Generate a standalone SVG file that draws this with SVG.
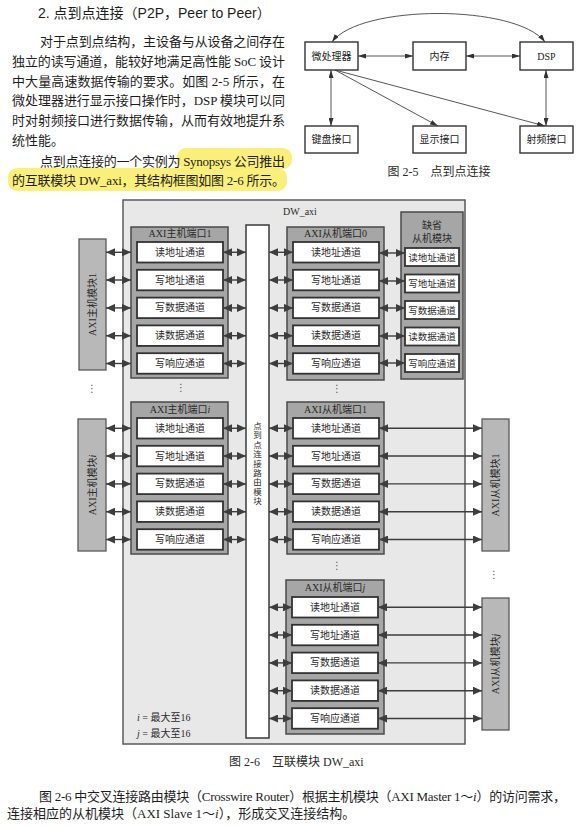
<svg xmlns="http://www.w3.org/2000/svg" width="584" height="826" viewBox="0 0 584 826">
<style>
.body{font-family:"Liberation Serif","Noto Sans CJK SC",serif;font-size:13px;fill:#1e1e1e}
.head{font-family:"Liberation Sans","Noto Sans CJK SC",sans-serif;font-size:14px;fill:#1e1e1e}
.cap{font-family:"Liberation Serif","Noto Sans CJK SC",serif;font-size:12px;fill:#2a2a2a}
.n5{fill:#fff;stroke:#333;stroke-width:1.4}
.t5{font-family:"Liberation Serif","Noto Sans CJK SC",serif;font-size:10px;fill:#222;text-anchor:middle}
.c5{fill:none;stroke:#444;stroke-width:0.9}
.outer{fill:#e8e8e8;stroke:#5a5a5a;stroke-width:1.5}
.port{fill:#a6a6a6;stroke:#4a4a4a;stroke-width:1.5}
.mod{fill:#b8b8b8;stroke:#5a5a5a;stroke-width:1.3}
.ch{fill:#fff;stroke:#333;stroke-width:1.8}
.col{fill:#fff;stroke:#3a3a3a;stroke-width:1.5}
.lab{font-family:"Liberation Serif","Noto Sans CJK SC",serif;font-size:10px;fill:#2a2a2a;text-anchor:middle}
.lab0{font-family:"Liberation Serif","Noto Sans CJK SC",serif;font-size:10px;fill:#2a2a2a}
.sm{font-size:9.5px}
.vc{font-family:"Liberation Serif","Noto Sans CJK SC",serif;font-size:8.5px;fill:#2a2a2a;text-anchor:middle}
.ar{stroke:#3d3d3d;stroke-width:1.4;marker-start:url(#ah);marker-end:url(#ah)}
.dots{font-family:"DejaVu Sans",sans-serif;font-size:10px;fill:#555;text-anchor:middle}
</style>
<defs>
<marker id="ah" markerUnits="userSpaceOnUse" markerWidth="9" markerHeight="8" viewBox="0 0 9 8" refX="9" refY="4" orient="auto-start-reverse"><path d="M0,0 L9,4 L0,8 Z" fill="#3d3d3d"/></marker>
<marker id="sh" markerUnits="userSpaceOnUse" markerWidth="8" markerHeight="5" viewBox="0 0 8 5" refX="8" refY="2.5" orient="auto-start-reverse"><path d="M0,0 L8,2.5 L0,5 Z" fill="#333"/></marker>
</defs>
<rect width="584" height="826" fill="#fff"/>

<g id="text-top">
<rect x="177" y="148" width="115" height="21" rx="9" fill="#faee6a" opacity="0.9"/>
<rect x="8" y="168" width="279" height="23" rx="9" fill="#faee6a" opacity="0.9"/>
<text class="head" x="38" y="18">2. 点到点连接（P2P，Peer to Peer）</text>
<text class="body" x="40" y="46" textLength="245" lengthAdjust="spacing">对于点到点结构，主设备与从设备之间存在</text>
<text class="body" x="12" y="66" textLength="273" lengthAdjust="spacing">独立的读写通道，能较好地满足高性能 SoC 设计</text>
<text class="body" x="12" y="86" textLength="273" lengthAdjust="spacing">中大量高速数据传输的要求。如图 2-5 所示，在</text>
<text class="body" x="12" y="105" textLength="273" lengthAdjust="spacing">微处理器进行显示接口操作时，DSP 模块可以同</text>
<text class="body" x="12" y="125" textLength="273" lengthAdjust="spacing">时对射频接口进行数据传输，从而有效地提升系</text>
<text class="body" x="12" y="145">统性能。</text>
<text class="body" x="40" y="166" textLength="245" lengthAdjust="spacing">点到点连接的一个实例为 Synopsys 公司推出</text>
<text class="body" x="12" y="185" textLength="273" lengthAdjust="spacing">的互联模块 DW_axi，其结构框图如图 2-6 所示。</text>
</g>

<g id="fig25">
<g id="f25-connectors">
<path class="c5" d="M332,42 C360,4 516,4 545,42" marker-start="url(#sh)" marker-end="url(#sh)"/>
<line class="c5" x1="358" y1="56" x2="413" y2="56" marker-start="url(#sh)" marker-end="url(#sh)"/>
<line class="c5" x1="466" y1="56" x2="520" y2="56" marker-start="url(#sh)" marker-end="url(#sh)"/>
<line class="c5" x1="331" y1="70" x2="331" y2="126" marker-start="url(#sh)" marker-end="url(#sh)"/>
<line class="c5" x1="546" y1="70" x2="546" y2="126" marker-start="url(#sh)" marker-end="url(#sh)"/>
<line class="c5" x1="335" y1="70" x2="438" y2="126" marker-end="url(#sh)"/>
<line class="c5" x1="335" y1="70" x2="545" y2="126" marker-end="url(#sh)"/>
</g>
<g id="n-cpu"><rect class="n5" x="305" y="42" width="53" height="28"/><text class="t5" x="331.5" y="59.5">微处理器</text></g>
<g id="n-mem"><rect class="n5" x="413" y="42" width="53" height="28"/><text class="t5" x="439.5" y="59.5">内存</text></g>
<g id="n-dsp"><rect class="n5" x="520" y="42" width="53" height="28"/><text class="t5" x="546.5" y="59.5">DSP</text></g>
<g id="n-kbd"><rect class="n5" x="305" y="126" width="53" height="27"/><text class="t5" x="331.5" y="143">键盘接口</text></g>
<g id="n-disp"><rect class="n5" x="413" y="126" width="53" height="27"/><text class="t5" x="439.5" y="143">显示接口</text></g>
<g id="n-rf"><rect class="n5" x="520" y="126" width="53" height="27"/><text class="t5" x="546.5" y="143">射频接口</text></g>
<text class="cap" x="439" y="176" text-anchor="middle">图 2-5　点到点连接</text>
</g>

<g id="fig26">
<g id="dw-axi"><rect class="outer" x="123" y="200" width="342" height="544"/><text class="lab0" x="283" y="215">DW_axi</text></g>

<g id="router"><rect class="col" x="246" y="225" width="23" height="513"/>
<text class="vc" x="257.5" y="429">点</text>
<text class="vc" x="257.5" y="438.4">到</text>
<text class="vc" x="257.5" y="447.8">点</text>
<text class="vc" x="257.5" y="457.2">连</text>
<text class="vc" x="257.5" y="466.6">接</text>
<text class="vc" x="257.5" y="476">路</text>
<text class="vc" x="257.5" y="485.4">由</text>
<text class="vc" x="257.5" y="494.8">模</text>
<text class="vc" x="257.5" y="504.2">块</text>
</g>

<g id="master-mod-1"><rect class="mod" x="79" y="239" width="27" height="131"/><text class="lab" transform="translate(96,304.5) rotate(-90)">AXI主机模块1</text></g>
<g id="master-mod-i"><rect class="mod" x="78" y="419" width="28" height="132"/><text class="lab" transform="translate(95.5,485) rotate(-90)">AXI主机模块<tspan font-style="italic">i</tspan></text></g>
<g id="slave-mod-1"><rect class="mod" x="482" y="419" width="27" height="132"/><text class="lab" transform="translate(499,485) rotate(-90)">AXI从机模块1</text></g>
<g id="slave-mod-j"><rect class="mod" x="482" y="598" width="27" height="132"/><text class="lab" transform="translate(499,664) rotate(-90)">AXI从机模块<tspan font-style="italic">j</tspan></text></g>

<g id="master-port-1">
<rect class="port" x="131" y="227" width="97" height="151"/>
<text class="lab" x="180" y="237">AXI主机端口1</text>
<rect class="ch" x="137" y="242" width="86" height="20.5"/><text class="lab" x="180" y="255.8">读地址通道</text>
<rect class="ch" x="137" y="269.8" width="86" height="20.5"/><text class="lab" x="180" y="283.6">写地址通道</text>
<rect class="ch" x="137" y="297.6" width="86" height="20.5"/><text class="lab" x="180" y="311.4">写数据通道</text>
<rect class="ch" x="137" y="325.4" width="86" height="20.5"/><text class="lab" x="180" y="339.2">读数据通道</text>
<rect class="ch" x="137" y="353.2" width="86" height="20.5"/><text class="lab" x="180" y="367">写响应通道</text>
</g>
<g id="master-port-i">
<rect class="port" x="131" y="402" width="97" height="152"/>
<text class="lab" x="180" y="413">AXI主机端口<tspan font-style="italic">i</tspan></text>
<rect class="ch" x="137" y="418" width="86" height="20.5"/><text class="lab" x="180" y="431.8">读地址通道</text>
<rect class="ch" x="137" y="445.8" width="86" height="20.5"/><text class="lab" x="180" y="459.6">写地址通道</text>
<rect class="ch" x="137" y="473.6" width="86" height="20.5"/><text class="lab" x="180" y="487.4">写数据通道</text>
<rect class="ch" x="137" y="501.4" width="86" height="20.5"/><text class="lab" x="180" y="515.2">读数据通道</text>
<rect class="ch" x="137" y="529.2" width="86" height="20.5"/><text class="lab" x="180" y="543">写响应通道</text>
</g>
<g id="slave-port-0">
<rect class="port" x="287" y="227" width="97" height="153"/>
<text class="lab" x="335.5" y="237">AXI从机端口0</text>
<rect class="ch" x="293" y="242" width="86" height="20.5"/><text class="lab" x="336" y="255.8">读地址通道</text>
<rect class="ch" x="293" y="269.8" width="86" height="20.5"/><text class="lab" x="336" y="283.6">写地址通道</text>
<rect class="ch" x="293" y="297.6" width="86" height="20.5"/><text class="lab" x="336" y="311.4">写数据通道</text>
<rect class="ch" x="293" y="325.4" width="86" height="20.5"/><text class="lab" x="336" y="339.2">读数据通道</text>
<rect class="ch" x="293" y="353.2" width="86" height="20.5"/><text class="lab" x="336" y="367">写响应通道</text>
</g>
<g id="slave-port-1">
<rect class="port" x="287" y="402" width="97" height="152"/>
<text class="lab" x="335.5" y="413">AXI从机端口1</text>
<rect class="ch" x="293" y="418" width="86" height="20.5"/><text class="lab" x="336" y="431.8">读地址通道</text>
<rect class="ch" x="293" y="445.8" width="86" height="20.5"/><text class="lab" x="336" y="459.6">写地址通道</text>
<rect class="ch" x="293" y="473.6" width="86" height="20.5"/><text class="lab" x="336" y="487.4">写数据通道</text>
<rect class="ch" x="293" y="501.4" width="86" height="20.5"/><text class="lab" x="336" y="515.2">读数据通道</text>
<rect class="ch" x="293" y="529.2" width="86" height="20.5"/><text class="lab" x="336" y="543">写响应通道</text>
</g>
<g id="slave-port-j">
<rect class="port" x="286" y="580" width="98" height="154"/>
<text class="lab" x="335" y="591">AXI从机端口<tspan font-style="italic">j</tspan></text>
<rect class="ch" x="292" y="597" width="86" height="20.5"/><text class="lab" x="335" y="610.8">读地址通道</text>
<rect class="ch" x="292" y="624.8" width="86" height="20.5"/><text class="lab" x="335" y="638.6">写地址通道</text>
<rect class="ch" x="292" y="652.6" width="86" height="20.5"/><text class="lab" x="335" y="666.4">写数据通道</text>
<rect class="ch" x="292" y="680.4" width="86" height="20.5"/><text class="lab" x="335" y="694.2">读数据通道</text>
<rect class="ch" x="292" y="708.2" width="86" height="20.5"/><text class="lab" x="335" y="722">写响应通道</text>
</g>
<g id="default-slave">
<rect class="port" x="401" y="212" width="62" height="167"/>
<text class="lab" x="432" y="229">缺省</text>
<text class="lab" x="432" y="242">从机模块</text>
<rect class="ch" x="405" y="248" width="54" height="18"/><text class="lab sm" x="432" y="260.5">读地址通道</text>
<rect class="ch" x="405" y="274.5" width="54" height="18"/><text class="lab sm" x="432" y="287">写地址通道</text>
<rect class="ch" x="405" y="301" width="54" height="18"/><text class="lab sm" x="432" y="313.5">写数据通道</text>
<rect class="ch" x="405" y="327.5" width="54" height="18"/><text class="lab sm" x="432" y="340">读数据通道</text>
<rect class="ch" x="405" y="354" width="54" height="18"/><text class="lab sm" x="432" y="366.5">写响应通道</text>
</g>

<g id="connectors">
<line class="ar" x1="106" y1="252.3" x2="131" y2="252.3"/><line class="ar" x1="106" y1="280" x2="131" y2="280"/><line class="ar" x1="106" y1="307.9" x2="131" y2="307.9"/><line class="ar" x1="106" y1="335.7" x2="131" y2="335.7"/><line class="ar" x1="106" y1="363.5" x2="131" y2="363.5"/>
<line class="ar" x1="223" y1="252.3" x2="246" y2="252.3"/><line class="ar" x1="223" y1="280" x2="246" y2="280"/><line class="ar" x1="223" y1="307.9" x2="246" y2="307.9"/><line class="ar" x1="223" y1="335.7" x2="246" y2="335.7"/><line class="ar" x1="223" y1="363.5" x2="246" y2="363.5"/>
<line class="ar" x1="269" y1="252.3" x2="293" y2="252.3"/><line class="ar" x1="269" y1="280" x2="293" y2="280"/><line class="ar" x1="269" y1="307.9" x2="293" y2="307.9"/><line class="ar" x1="269" y1="335.7" x2="293" y2="335.7"/><line class="ar" x1="269" y1="363.5" x2="293" y2="363.5"/>
<line class="ar" x1="379" y1="253" x2="405" y2="253"/><line class="ar" x1="379" y1="281" x2="405" y2="281"/><line class="ar" x1="379" y1="308" x2="405" y2="308"/><line class="ar" x1="379" y1="336" x2="405" y2="336"/><line class="ar" x1="379" y1="363" x2="405" y2="363"/>
<line class="ar" x1="106" y1="428.3" x2="131" y2="428.3"/><line class="ar" x1="106" y1="456" x2="131" y2="456"/><line class="ar" x1="106" y1="483.9" x2="131" y2="483.9"/><line class="ar" x1="106" y1="511.7" x2="131" y2="511.7"/><line class="ar" x1="106" y1="539.5" x2="131" y2="539.5"/>
<line class="ar" x1="223" y1="428.3" x2="246" y2="428.3"/><line class="ar" x1="223" y1="456" x2="246" y2="456"/><line class="ar" x1="223" y1="483.9" x2="246" y2="483.9"/><line class="ar" x1="223" y1="511.7" x2="246" y2="511.7"/><line class="ar" x1="223" y1="539.5" x2="246" y2="539.5"/>
<line class="ar" x1="269" y1="428.3" x2="293" y2="428.3"/><line class="ar" x1="269" y1="456" x2="293" y2="456"/><line class="ar" x1="269" y1="483.9" x2="293" y2="483.9"/><line class="ar" x1="269" y1="511.7" x2="293" y2="511.7"/><line class="ar" x1="269" y1="539.5" x2="293" y2="539.5"/>
<line class="ar" stroke-width="1.1" x1="379" y1="428.3" x2="482" y2="428.3"/><line class="ar" stroke-width="1.1" x1="379" y1="456" x2="482" y2="456"/><line class="ar" stroke-width="1.1" x1="379" y1="483.9" x2="482" y2="483.9"/><line class="ar" stroke-width="1.1" x1="379" y1="511.7" x2="482" y2="511.7"/><line class="ar" stroke-width="1.1" x1="379" y1="539.5" x2="482" y2="539.5"/>
<line class="ar" x1="269" y1="607.3" x2="292" y2="607.3"/><line class="ar" x1="269" y1="635" x2="292" y2="635"/><line class="ar" x1="269" y1="662.9" x2="292" y2="662.9"/><line class="ar" x1="269" y1="690.7" x2="292" y2="690.7"/><line class="ar" x1="269" y1="718.5" x2="292" y2="718.5"/>
<line class="ar" stroke-width="1.1" x1="378" y1="607.3" x2="482" y2="607.3"/><line class="ar" stroke-width="1.1" x1="378" y1="635" x2="482" y2="635"/><line class="ar" stroke-width="1.1" x1="378" y1="662.9" x2="482" y2="662.9"/><line class="ar" stroke-width="1.1" x1="378" y1="690.7" x2="482" y2="690.7"/><line class="ar" stroke-width="1.1" x1="378" y1="718.5" x2="482" y2="718.5"/>
</g>

<g id="ellipses">
<text class="dots" x="181" y="391">⋮</text>
<text class="dots" x="92" y="392">⋮</text>
<text class="dots" x="337" y="392">⋮</text>
<text class="dots" x="337" y="569">⋮</text>
<text class="dots" x="494" y="578">⋮</text>
</g>

<g id="legend">
<text class="lab0" x="137" y="721"><tspan font-style="italic">i</tspan> = 最大至16</text>
<text class="lab0" x="137" y="737"><tspan font-style="italic">j</tspan> = 最大至16</text>
</g>
<text class="cap" x="229" y="766">图 2-6　互联模块 DW_axi</text>
</g>

<g id="text-bottom">
<text class="body" x="39" y="801" textLength="527" lengthAdjust="spacing">图 2-6 中交叉连接路由模块（Crosswire Router）根据主机模块（AXI Master 1～<tspan font-style="italic">i</tspan>）的访问需求，</text>
<text class="body" x="7" y="818">连接相应的从机模块（AXI Slave 1～<tspan font-style="italic">i</tspan>），形成交叉连接结构。</text>
</g>
</svg>
